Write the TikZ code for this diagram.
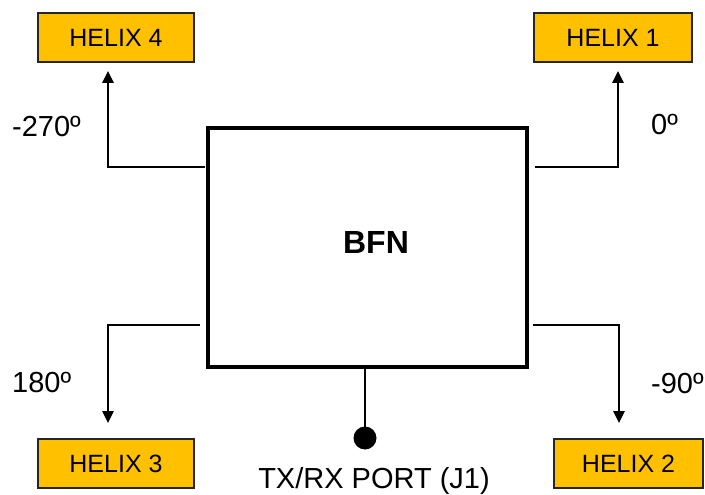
\documentclass[tikz,border=0pt]{standalone}
\usepackage{fontspec}
\setmainfont{Liberation Sans}
\usetikzlibrary{arrows.meta}
\definecolor{helixfill}{HTML}{FFC000}
\tikzset{
  helix/.style={draw=black!85, line width=1.5pt, fill=helixfill, minimum height=49pt,
    inner sep=0pt, font=\fontsize{25}{28}\selectfont},
  conn/.style={line width=2.6pt, -{Triangle[length=12pt,width=11pt]}},
  phase/.style={font=\fontsize{29}{32}\selectfont, inner sep=0pt},
}
\begin{document}
\begin{tikzpicture}[x=1pt,y=-1pt]
\useasboundingbox (0,0) rectangle (705,495);

% antenna elements
\node[helix, minimum width=156pt] (h4) at (116,37.5) {HELIX 4};
\node[helix, minimum width=158pt] (h1) at (613,37.5) {HELIX 1};
\node[helix, minimum width=156pt] (h3) at (116,463.5) {HELIX 3};
\node[helix, minimum width=149pt] (h2) at (628.5,463.5) {HELIX 2};

% beam forming network
\node[draw, line width=4pt, minimum width=319pt, minimum height=239pt, inner sep=0pt]
  (bfn) at (367.5,247.5) {};
\node[font=\bfseries\fontsize{32}{36}\selectfont, inner sep=0pt, anchor=base]
  (bfnlbl) at (376,253) {BFN};

% output ports on the network
\coordinate (o4) at (205,167);
\coordinate (o1) at (535,167);
\coordinate (o3) at (200,325);
\coordinate (o2) at (533,325);
\coordinate (t4) at (108,71);
\coordinate (t1) at (618,71);
\coordinate (t3) at (108,423);
\coordinate (t2) at (619,423);

\draw[conn] (o4) -| (t4);
\draw[conn] (o1) -| (t1);
\draw[conn] (o3) -| (t3);
\draw[conn] (o2) -| (t2);

% common port
\node[circle, fill=black, minimum size=23pt, inner sep=0pt] (port) at (365,438) {};
\draw[line width=2.6pt] (bfn.south -| port) -- (port.center);
\node[phase, anchor=base] (portlbl) at (374,488) {TX/RX PORT (J1)};

% phase labels
\node[phase, anchor=base west] (ph4) at (12,136) {-270º};
\node[phase, anchor=base west] (ph1) at (651,135) {0º};
\node[phase, anchor=base west] (ph3) at (12,392) {180º};
\node[phase, anchor=base west] (ph2) at (651,393) {-90º};
\end{tikzpicture}
\end{document}
